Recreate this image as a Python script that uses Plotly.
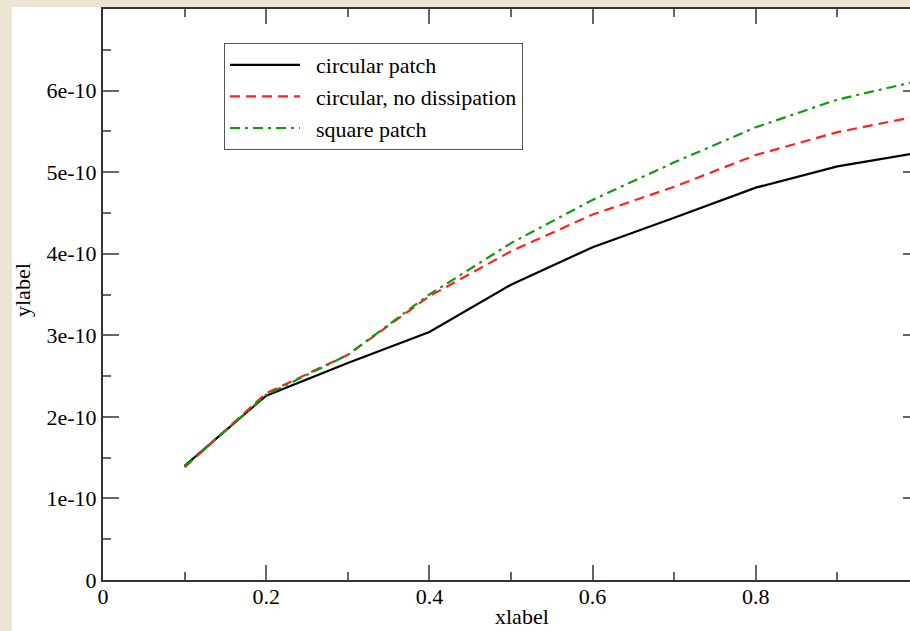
import plotly.graph_objects as go

x_vals = [0.1, 0.2, 0.3, 0.4, 0.5, 0.6, 0.7, 0.8, 0.9, 1.0]
circular_patch = [1.40e-10, 2.26e-10, 2.66e-10, 3.04e-10, 3.62e-10, 4.08e-10, 4.44e-10, 4.81e-10, 5.07e-10, 5.24e-10]
circular_no_diss = [1.38e-10, 2.29e-10, 2.76e-10, 3.48e-10, 4.03e-10, 4.48e-10, 4.82e-10, 5.21e-10, 5.49e-10, 5.69e-10]
square_patch = [1.39e-10, 2.27e-10, 2.76e-10, 3.50e-10, 4.13e-10, 4.66e-10, 5.12e-10, 5.55e-10, 5.89e-10, 6.12e-10]
series_names = ["circular patch", "circular, no dissipation", "square patch"]

x_ticks = [0, 0.2, 0.4, 0.6, 0.8, 1.0]
x_tick_text = ["0", "0.2", "0.4", "0.6", "0.8", "1"]
y_ticks = [0, 1e-10, 2e-10, 3e-10, 4e-10, 5e-10, 6e-10]
y_tick_text = ["0", "1e-10", "2e-10", "3e-10", "4e-10", "5e-10", "6e-10"]

FONT = "Liberation Serif"
W, H = 910, 631
ML, MR, MT, MB = 103, 0, 9, 51
PH = H - MT - MB
x_max = (W - ML - MR) / 816.0

SP = "\u2002"  # small gap between legend sample and text

fig = go.Figure()
fig.add_trace(go.Scatter(x=x_vals, y=circular_patch, mode="lines", name=SP + series_names[0],
                         line=dict(color="black", width=2.2)))
fig.add_trace(go.Scatter(x=x_vals, y=circular_no_diss, mode="lines", name=SP + series_names[1],
                         line=dict(color="#ff2020", width=2.2, dash="10px,6px")))
fig.add_trace(go.Scatter(x=x_vals, y=square_patch, mode="lines", name=SP + series_names[2],
                         line=dict(color="#119911", width=2.2, dash="10px,5px,3px,5px")))
# invisible trace for right-side ticks
fig.add_trace(go.Scatter(x=[0], y=[0], yaxis="y2", mode="lines", showlegend=False,
                         line=dict(width=0), hoverinfo="skip"))

fig.update_layout(
    width=W, height=H,
    margin=dict(l=ML, r=MR, t=MT, b=MB),
    paper_bgcolor="rgb(236,228,212)",
    plot_bgcolor="white",
    font=dict(family=FONT, size=22, color="black"),
    showlegend=True,
    legend=dict(x=(224 - ML) / (W - ML), y=(H - MB - 43) / PH, xanchor="left", yanchor="top",
                bgcolor="white", bordercolor="#555555", borderwidth=1,
                font=dict(family=FONT, size=22), itemwidth=70, tracegroupgap=0),
    xaxis=dict(range=[0, x_max], tickvals=x_ticks, ticktext=x_tick_text,
               ticks="inside", ticklen=15, tickwidth=2, tickcolor="#666666",
               showline=True, linecolor="#333333", linewidth=2, mirror="ticks",
               showgrid=False, zeroline=False, ticklabelstandoff=-4,
               minor=dict(dtick=0.1, tick0=0, ticks="inside", ticklen=8, tickwidth=2, tickcolor="#666666", showgrid=False),
               tickfont=dict(family=FONT, size=22)),
    yaxis=dict(range=[0, 7e-10], tickvals=y_ticks, ticktext=y_tick_text,
               ticks="inside", ticklen=16, tickwidth=2, tickcolor="#666666",
               showline=True, linecolor="#333333", linewidth=2,
               showgrid=False, zeroline=False,
               minor=dict(dtick=0.5e-10, tick0=0, ticks="inside", ticklen=8, tickwidth=2, tickcolor="#666666", showgrid=False),
               tickfont=dict(family=FONT, size=22)),
    yaxis2=dict(range=[0, 7e-10], overlaying="y", side="right", tickvals=y_ticks,
                ticks="inside", ticklen=7, tickwidth=2, tickcolor="#666666",
                showticklabels=False, showline=False, showgrid=False, zeroline=False),
)

# white page region (textured strip remains on top and left)
fig.add_shape(type="rect", xref="paper", yref="paper",
              x0=(12 - ML) / (W - ML), x1=1.02, y0=-MB / PH, y1=(H - MB - 7) / PH,
              fillcolor="white", line=dict(width=0), layer="below")

fig.add_annotation(text="xlabel", xref="paper", yref="paper",
                   x=(522 - ML) / (W - ML), y=(H - MB - 616) / PH, showarrow=False,
                   font=dict(family=FONT, size=22), xanchor="center", yanchor="middle")
fig.add_annotation(text="ylabel", xref="paper", yref="paper",
                   x=(22 - ML) / (W - ML), y=(H - MB - 290) / PH, showarrow=False, textangle=-90,
                   font=dict(family=FONT, size=22), xanchor="center", yanchor="middle")

fig.write_html("out.html")
